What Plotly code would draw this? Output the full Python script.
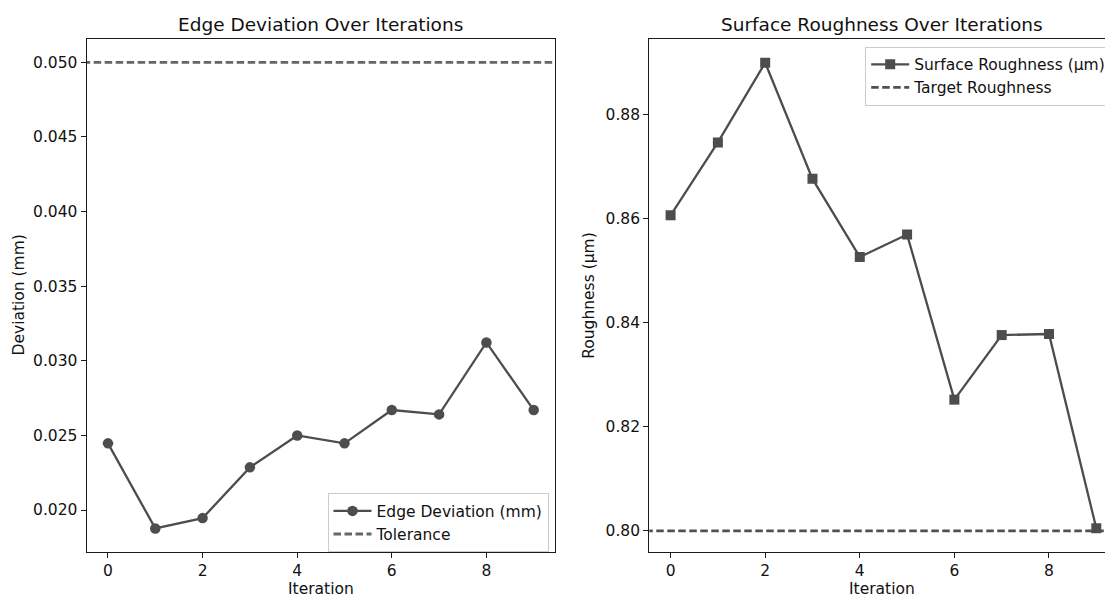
import plotly.graph_objects as go

iterations = [0, 1, 2, 3, 4, 5, 6, 7, 8, 9]
edge_deviation = [0.02447, 0.01877, 0.01946, 0.02286, 0.02500, 0.02447, 0.02670, 0.02641, 0.03123, 0.02670]
surface_roughness = [0.8606, 0.8746, 0.8899, 0.8676, 0.8526, 0.8569, 0.8252, 0.8376, 0.8378, 0.8005]
tolerance = 0.05
target_roughness = 0.80

left_yticks = [0.020, 0.025, 0.030, 0.035, 0.040, 0.045, 0.050]
right_yticks = [0.80, 0.82, 0.84, 0.86, 0.88]
xticks = [0, 2, 4, 6, 8]

W, H = 1105, 597
FONT = "DejaVu Sans"
LINE = "#4d4d4d"
SPINE = "#1a1a1a"
TXT = "#111111"
FS = 15.5


def px_x(p):
    return p / W


def px_y(p):
    return 1 - p / H


fig = go.Figure()

fig.add_trace(go.Scatter(
    x=iterations, y=edge_deviation, mode="lines+markers",
    name="Edge Deviation (mm)",
    line=dict(color=LINE, width=2.3),
    marker=dict(symbol="circle", size=10.5, color=LINE),
    xaxis="x", yaxis="y", legend="legend", legendgroup="a",
))
fig.add_trace(go.Scatter(
    x=[iterations[0] - 1, iterations[-1] + 1], y=[tolerance, tolerance], mode="lines",
    name="Tolerance",
    line=dict(color="#666666", width=2.8, dash="7.5px,3.5px"),
    xaxis="x", yaxis="y", legend="legend", legendgroup="b",
))
fig.add_trace(go.Scatter(
    x=iterations, y=surface_roughness, mode="lines+markers",
    name="Surface Roughness (µm)",
    line=dict(color=LINE, width=2.3),
    marker=dict(symbol="square", size=10, color=LINE),
    xaxis="x2", yaxis="y2", legend="legend2", legendgroup="c",
))
fig.add_trace(go.Scatter(
    x=[iterations[0] - 1, iterations[-1] + 1], y=[target_roughness, target_roughness], mode="lines",
    name="Target Roughness",
    line=dict(color="#505050", width=2.8, dash="7.5px,3.5px"),
    xaxis="x2", yaxis="y2", legend="legend2", legendgroup="d",
))

ydom = [px_y(551.7), px_y(39.3)]
common_x = dict(
    tickmode="array", tickvals=xticks, ticks="outside", ticklen=5, tickwidth=1.2,
    tickcolor=SPINE, showline=True, linecolor=SPINE, linewidth=1.3, mirror=True,
    showgrid=False, zeroline=False, automargin=False,
    tickfont=dict(family=FONT, size=FS, color=TXT),
)
common_y = dict(
    ticks="outside", ticklen=5, tickwidth=1.2, tickcolor=SPINE,
    showline=True, linecolor=SPINE, linewidth=1.3,
    showgrid=False, zeroline=False, automargin=False,
    tickfont=dict(family=FONT, size=FS, color=TXT),
)
legend_common = dict(
    xanchor="left", yanchor="top",
    bgcolor="rgba(255,255,255,0.8)", bordercolor="#cccccc", borderwidth=1,
    font=dict(family=FONT, size=FS, color=TXT), tracegroupgap=0,
    traceorder="grouped", itemwidth=38,
)

fig.update_layout(
    width=W, height=H,
    margin=dict(l=0, r=0, t=0, b=0, autoexpand=False),
    paper_bgcolor="white", plot_bgcolor="white",
    font=dict(family=FONT, color=TXT),
    xaxis=dict(domain=[px_x(86.7), px_x(555)], range=[-0.45, 9.45], anchor="y", **common_x),
    yaxis=dict(domain=ydom, range=[0.01721, 0.05154], anchor="x", mirror=True,
               tickmode="array", tickvals=left_yticks,
               ticktext=[f"{v:.3f}" for v in left_yticks], **common_y),
    xaxis2=dict(domain=[px_x(649.3), 1.0], range=[-0.45, -0.45 + (W - 649.3) / 47.3],
                anchor="y2", **common_x),
    yaxis2=dict(domain=ydom, range=[0.7960, 0.8944], anchor="x2", mirror=False,
                tickmode="array", tickvals=right_yticks,
                ticktext=[f"{v:.2f}" for v in right_yticks], **common_y),
    legend=dict(x=px_x(327.5), y=px_y(493.3), **legend_common),
    legend2=dict(x=px_x(865.2), y=px_y(46.7), **legend_common),
    showlegend=True,
)

annotations = [
    ("Edge Deviation Over Iterations", 320.9, 25, 18.5, 0),
    ("Surface Roughness Over Iterations", 882, 25, 18.5, 0),
    ("Iteration", 320.9, 588.5, FS, 0),
    ("Iteration", 882, 588.5, FS, 0),
    ("Deviation (mm)", 18, 295.5, FS, -90),
    ("Roughness (µm)", 588.3, 295.5, FS, -90),
]
for text, x, y, size, ang in annotations:
    fig.add_annotation(text=text, x=px_x(x), y=px_y(y), xref="paper", yref="paper",
                       xanchor="center", yanchor="middle", showarrow=False, textangle=ang,
                       font=dict(family=FONT, size=size, color=TXT))

fig.write_html(
    "out.html",
    config={"displayModeBar": False},
    post_script="document.body.style.margin='0px';document.body.style.overflow='hidden';",
)
